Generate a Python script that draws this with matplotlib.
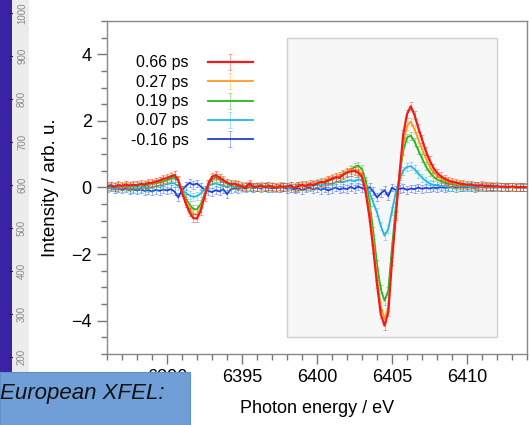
import numpy as np
import matplotlib
matplotlib.use("Agg")
import matplotlib.pyplot as plt
from matplotlib.patches import Rectangle

plt.rcParams["font.family"] = ["Liberation Sans", "DejaVu Sans"]

# photon energy grid, 0.25 eV steps from 6386 to 6414 eV
energy = np.linspace(6386, 6414, 113)

labels = ["0.66 ps", "0.27 ps", "0.19 ps", "0.07 ps", "-0.16 ps"]
colors = ["#f21b1b", "#ff9a1e", "#25b525", "#1fb6ee", "#1c3fe3"]
errs = [0.12, 0.12, 0.12, 0.12, 0.12]

red = [
    0.04, 0.06, 0.02, 0.07, 0.05, 0.09, 0.06, 0.08,
    0.07, 0.11, 0.09, 0.13, 0.14, 0.18, 0.21, 0.26,
    0.28, 0.33, 0.37, 0.22, -0.15, -0.48, -0.75, -0.92,
    -0.93, -0.70, -0.28, 0.10, 0.32, 0.37, 0.30, 0.22,
    0.15, 0.10, 0.12, 0.07, 0.03, 0.01, 0.12, 0.02,
    0.02, 0.06, 0.01, 0.04, 0.03, -0.01, 0.04, 0.02,
    0.03, 0.06, -0.02, 0.05, 0.08, 0.04, 0.10, 0.07,
    0.12, 0.17, 0.15, 0.22, 0.26, 0.31, 0.29, 0.38,
    0.45, 0.48, 0.50, 0.44, 0.32, -0.15, -0.90, -1.85,
    -2.90, -3.80, -4.15, -3.75, -2.20, -0.85, 0.40, 1.60,
    2.20, 2.44, 2.18, 1.80, 1.45, 1.10, 0.82, 0.60,
    0.44, 0.34, 0.27, 0.21, 0.17, 0.15, 0.12, 0.10,
    0.08, 0.09, 0.06, 0.05, 0.07, 0.04, 0.05, 0.03,
    0.04, 0.02, 0.03, 0.01, 0.03, 0.02, 0.01, 0.02,
    0.01,
]
orange = [
    0.03, 0.05, 0.04, 0.06, 0.03, 0.07, 0.05, 0.06,
    0.08, 0.07, 0.10, 0.12, 0.11, 0.16, 0.20, 0.23,
    0.27, 0.34, 0.38, 0.24, -0.10, -0.40, -0.65, -0.80,
    -0.82, -0.62, -0.24, 0.12, 0.30, 0.36, 0.28, 0.20,
    0.14, 0.11, 0.08, 0.09, 0.05, 0.04, 0.07, 0.03,
    0.04, 0.02, 0.05, 0.01, 0.04, 0.03, 0.00, 0.04,
    0.02, 0.05, 0.01, 0.06, 0.04, 0.09, 0.06, 0.11,
    0.14, 0.12, 0.20, 0.24, 0.30, 0.28, 0.36, 0.42,
    0.48, 0.55, 0.52, 0.50, 0.40, 0.00, -0.70, -1.60,
    -2.70, -3.55, -3.95, -3.60, -2.10, -0.80, 0.35, 1.30,
    1.85, 1.98, 1.75, 1.45, 1.15, 0.88, 0.64, 0.46,
    0.35, 0.27, 0.21, 0.17, 0.14, 0.11, 0.09, 0.08,
    0.06, 0.07, 0.05, 0.06, 0.04, 0.05, 0.03, 0.04,
    0.02, 0.03, 0.02, 0.03, 0.01, 0.02, 0.02, 0.01,
    0.01,
]
green = [
    0.02, 0.04, 0.01, 0.05, 0.03, 0.04, 0.02, 0.05,
    0.04, 0.06, 0.05, 0.08, 0.10, 0.12, 0.15, 0.18,
    0.22, 0.27, 0.30, 0.20, -0.08, -0.32, -0.52, -0.64,
    -0.66, -0.50, -0.20, 0.08, 0.24, 0.30, 0.24, 0.17,
    0.12, 0.08, 0.07, 0.05, 0.06, 0.02, 0.04, 0.03,
    0.01, 0.03, 0.02, 0.04, 0.01, 0.02, 0.03, 0.01,
    0.02, 0.04, 0.00, 0.05, 0.03, 0.07, 0.05, 0.09,
    0.10, 0.14, 0.16, 0.20, 0.24, 0.30, 0.35, 0.40,
    0.46, 0.52, 0.62, 0.66, 0.55, 0.20, -0.45, -1.30,
    -2.30, -3.05, -3.40, -3.10, -1.80, -0.60, 0.35, 1.10,
    1.50, 1.56, 1.38, 1.12, 0.88, 0.64, 0.46, 0.33,
    0.24, 0.19, 0.15, 0.12, 0.10, 0.08, 0.07, 0.05,
    0.06, 0.04, 0.05, 0.03, 0.04, 0.02, 0.03, 0.02,
    0.03, 0.01, 0.02, 0.01, 0.02, 0.00, 0.01, 0.01,
    0.00,
]
cyan = [
    -0.02, 0.01, -0.04, 0.00, -0.03, 0.02, -0.05, -0.01,
    -0.04, -0.02, 0.01, -0.03, 0.02, 0.04, 0.06, 0.08,
    0.10, 0.13, 0.12, 0.04, -0.08, -0.16, -0.24, -0.28,
    -0.26, -0.18, -0.06, 0.05, 0.10, 0.12, 0.08, 0.05,
    0.02, 0.06, 0.00, 0.03, -0.02, 0.04, 0.01, -0.01,
    0.02, 0.00, 0.03, -0.02, 0.01, 0.03, -0.01, 0.02,
    0.00, -0.03, 0.02, 0.01, 0.04, 0.02, 0.06, 0.05,
    0.08, 0.06, 0.10, 0.12, 0.11, 0.15, 0.18, 0.16,
    0.20, 0.22, 0.19, 0.24, 0.22, 0.10, -0.15, -0.45,
    -0.75, -1.15, -1.45, -1.25, -0.70, -0.15, 0.25, 0.50,
    0.62, 0.64, 0.55, 0.42, 0.30, 0.20, 0.12, 0.08,
    0.06, 0.04, 0.05, 0.03, 0.02, 0.04, 0.01, 0.02,
    0.03, 0.01, 0.02, 0.00, 0.02, 0.01, 0.02, 0.00,
    0.01, 0.02, 0.00, 0.01, 0.01, 0.00, 0.01, 0.00,
    0.00,
]
blue = [
    -0.03, 0.00, -0.05, -0.02, -0.06, -0.03, -0.08, -0.05,
    -0.09, -0.06, -0.10, -0.08, -0.12, -0.07, -0.10, -0.06,
    -0.09, -0.05, -0.12, -0.30, -0.08, 0.04, 0.14, 0.08,
    0.12, 0.03, -0.06, -0.10, -0.14, -0.08, -0.12, -0.05,
    -0.20, -0.06, -0.02, -0.04, 0.00, -0.03, 0.01, -0.02,
    0.00, -0.02, 0.01, -0.01, -0.03, 0.00, -0.02, 0.01,
    -0.04, -0.01, -0.06, -0.02, -0.08, -0.03, 0.00, -0.05,
    -0.02, -0.07, -0.03, -0.09, -0.04, 0.00, -0.06, -0.02,
    -0.05, 0.02, -0.04, 0.03, -0.02, -0.06, 0.01, -0.12,
    -0.30, -0.18, -0.08, -0.26, 0.00, -0.08, -0.04, -0.02,
    -0.07, -0.03, -0.05, 0.00, -0.04, -0.01, -0.03, 0.00,
    -0.02, 0.01, -0.01, 0.00, 0.01, -0.01, 0.00, 0.01,
    0.00, 0.01, -0.01, 0.00, 0.01, 0.00, 0.00, 0.01,
    0.00, 0.01, 0.00, 0.00, 0.01, 0.00, 0.00, 0.00,
    0.00,
]
series = [red, orange, green, cyan, blue]

cbar_ticks = [1000, 900, 800, 700, 600, 500, 400, 300, 200]

W, H = 529, 425
fig = plt.figure(figsize=(W / 100, H / 100), dpi=100)


def fx(px):
    return px / W


def fy(py):
    return 1 - py / H


# left strip: piece of a colour bar from the slide
fig.patches.append(Rectangle((0, fy(372)), fx(12), 1 - fy(372), transform=fig.transFigure,
                             facecolor="#3a22a4", edgecolor="none", zorder=1))
fig.patches.append(Rectangle((fx(12), fy(372)), fx(17), 1 - fy(372), transform=fig.transFigure,
                             facecolor="#ececec", edgecolor="none", zorder=1))
for v in cbar_ticks:
    ypx = 13 + (1000 - v) * 0.43
    fig.text(fx(22), fy(ypx), str(v), rotation=90, ha="center", va="center",
             fontsize=7, color="#8a8a8a")
    fig.add_artist(plt.Line2D([fx(9), fx(12)], [fy(ypx), fy(ypx)], transform=fig.transFigure,
                              color="#2a1680", lw=0.8))

ax = fig.add_axes([fx(107), fy(354), fx(420), (354 - 21) / H])

ax.add_patch(Rectangle((6398, -4.5), 14, 9, facecolor="#f7f7f7", edgecolor="#d0d0d0",
                       lw=1, zorder=0))

handles = []
for i in range(len(series) - 1, -1, -1):
    lw = 1.6 if i == 0 else 1.3
    h = ax.errorbar(energy, series[i], yerr=errs[i], color=colors[i], lw=lw,
                    ecolor=colors[i], elinewidth=0.6, capsize=1.5, capthick=0.6,
                    label=labels[i], zorder=2 + (5 - i))
    for part in h[2]:
        part.set_alpha(0.45)
    for cap in h[1]:
        cap.set_alpha(0.45)
    handles.append(h)
handles = handles[::-1]

ax.set_xlim(6386, 6414)
ax.set_ylim(-5, 5)
ax.set_xticks([6390, 6395, 6400, 6405, 6410])
ax.set_xticks(np.arange(6386, 6415, 1), minor=True)
ax.set_yticks([-4, -2, 0, 2, 4])
ax.set_yticks(np.arange(-5, 5.01, 0.5), minor=True)
ax.tick_params(which="major", length=7, width=1, color="#777777", labelsize=13, pad=4)
ax.tick_params(which="minor", length=4, width=1, color="#777777")
for s in ax.spines.values():
    s.set_color("#888888")
    s.set_linewidth(1)

ax.set_xlabel("Photon energy / eV", fontsize=13, labelpad=10)
ax.set_ylabel("Intensity / arb. u.", fontsize=13.5, labelpad=9)

leg = ax.legend(handles, labels, loc="upper left", bbox_to_anchor=(0.03, 0.93),
                frameon=False, markerfirst=False, fontsize=11.5, handlelength=2.8,
                handletextpad=1.2, labelspacing=0.27, borderpad=0.2)

# blue caption box from the slide
fig.patches.append(Rectangle((0, 0), fx(190), fy(372), transform=fig.transFigure,
                             facecolor="#6f9fd6", edgecolor="#5f8fca", lw=0.8, zorder=10))
fig.text(fx(0), fy(393), "European XFEL:", fontsize=16, style="italic",
         ha="left", va="center", color="#111111", zorder=11)

fig.savefig("out.png", dpi=100)
